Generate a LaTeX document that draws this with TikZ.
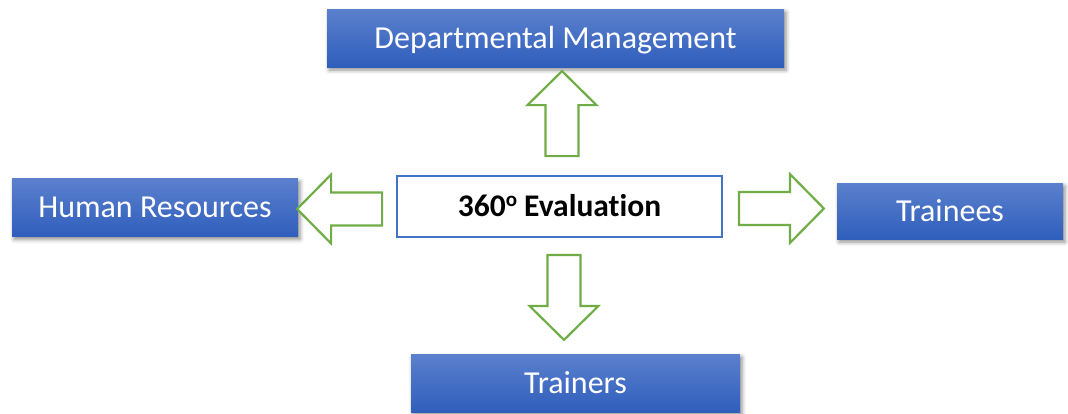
\documentclass[tikz,border=0pt]{standalone}
\usepackage{fontspec}
\setmainfont{Carlito}[Ligatures={NoCommon}]
\usetikzlibrary{calc,shadows.blur}
\definecolor{boxtop}{HTML}{5B80CD}
\definecolor{boxbottom}{HTML}{2F5EBC}
\definecolor{arrowgreen}{HTML}{70AD47}
\definecolor{frameblue}{HTML}{4472C4}
\begin{document}
\begin{tikzpicture}[x=1pt,y=-1pt,
  bluebox/.style={rectangle, inner sep=0pt, top color=boxtop, bottom color=boxbottom,
    text=white, font=\fontsize{32}{36}\selectfont, text height=20.5pt, text depth=0pt,
    blur shadow={shadow xshift=2pt, shadow yshift=-3pt, shadow blur radius=4pt, shadow opacity=45}},
  evalbox/.style={rectangle, inner sep=0pt, draw=frameblue, line width=1.8pt, fill=white,
    font=\fontsize{31.5}{36}\selectfont\bfseries, text height=20.5pt, text depth=0pt},
  fat arrow/.pic={
    \draw[arrowgreen, line width=2.2pt, line join=miter, fill=white]
      (0,-16.5) -- (51,-16.5) -- (51,-34.5) -- (85,0) -- (51,34.5) -- (51,16.5) -- (0,16.5) -- cycle;}
]
\useasboundingbox (0,0) rectangle (1068,413);

% central box
\node[evalbox, minimum width=325pt, minimum height=61pt] (eval) at (559.5,206.5)
  {360\raisebox{10pt}{\fontsize{21}{21}\selectfont o} Evaluation};

% surrounding boxes
\node[bluebox, minimum width=457pt, minimum height=58pt] (dept) at (555.5,38) {Departmental Management};
\node[bluebox, minimum width=286pt, minimum height=58pt] (hr) at (155,207.5) {Human Resources};
\node[bluebox, minimum width=226pt, minimum height=56pt] (trainees) at (950,211) {Trainees};
\node[bluebox, minimum width=329pt, minimum height=58pt] (trainers) at (575.5,383) {Trainers};

% block arrows leaving the central box
\pic[rotate=90]  at ($(eval.north)+(2.5,-19)$) {fat arrow};
\pic[rotate=180] at ($(eval.west)+(-14,2.5)$) {fat arrow};
\pic             at ($(eval.east)+(16,2)$) {fat arrow};
\pic[rotate=-90] at ($(eval.south)+(4.5,17)$) {fat arrow};
\end{tikzpicture}
\end{document}
